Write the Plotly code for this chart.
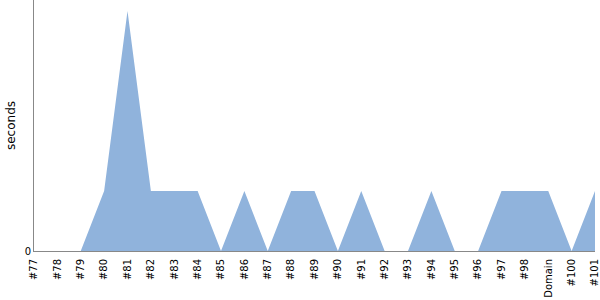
import plotly.graph_objects as go

categories = ["#77", "#78", "#79", "#80", "#81", "#82", "#83", "#84", "#85", "#86",
              "#87", "#88", "#89", "#90", "#91", "#92", "#93", "#94", "#95", "#96",
              "#97", "#98", "Domain", "#100", "#101"]
seconds = [0, 0, 0, 1, 4, 1, 1, 1, 0, 1,
           0, 1, 1, 0, 1, 0, 0, 1, 0, 0,
           1, 1, 1, 0, 1]

fig = go.Figure()
fig.add_trace(go.Scatter(
    x=categories, y=seconds, mode="none", fill="tozeroy",
    fillcolor="#90b3dc", hoverinfo="x+y",
))
fig.update_layout(
    width=600, height=300,
    margin=dict(l=34, r=5, t=0, b=49),
    paper_bgcolor="white", plot_bgcolor="white",
    font=dict(family="DejaVu Sans", size=11, color="#000"),
    showlegend=False,
)
fig.update_xaxes(
    type="category", range=[0, len(categories) - 1],
    showline=True, linecolor="#888", linewidth=1,
    showgrid=False, zeroline=False, ticks="", tickangle=-90,
    tickfont=dict(size=10), ticklabelstandoff=3,
)
fig.update_yaxes(
    range=[0, 251 / 60], tickvals=[0], ticktext=["0"],
    showline=True, linecolor="#888", linewidth=1,
    showgrid=False, zeroline=False, ticks="",
    title=dict(text="seconds", standoff=6, font=dict(size=12)),
    tickfont=dict(size=10),
)
fig.write_html("out.html")
